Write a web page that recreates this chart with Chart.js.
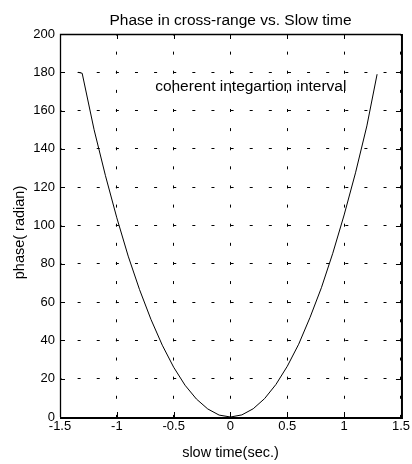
<!DOCTYPE html>
<html><head><meta charset="utf-8">
<script src="https://cdn.jsdelivr.net/npm/chart.js@4"></script>
<style>html,body{margin:0;padding:0;background:#fff;overflow:hidden;} #wrap{width:412px;height:464px;position:relative;}</style>
</head><body><div id="wrap"><canvas id="c" width="412" height="464"></canvas></div>
<script>
// ---- data ----
const slowTime = [-1.34, -1.305, -1.2, -1.1, -1.0, -0.9, -0.8, -0.7, -0.6, -0.5, -0.4, -0.3, -0.2, -0.1, 0.0,
                  0.1, 0.2, 0.3, 0.4, 0.5, 0.6, 0.7, 0.8, 0.9, 1.0, 1.1, 1.2, 1.29];
const phase    = [180, 179.5, 150, 126, 104, 84, 66.5, 51, 37.5, 26, 16.6, 9.4, 4.2, 1.0, 0,
                  1.1, 4.3, 9.6, 17, 26.5, 38, 52, 67.5, 85.5, 105.5, 127.5, 152, 179];
const xTicks = [-1.5, -1, -0.5, 0, 0.5, 1, 1.5];
const xTickLabels = ['-1.5', '-1', '-0.5', '0', '0.5', '1', '1.5'];
const yTicks = [0, 20, 40, 60, 80, 100, 120, 140, 160, 180, 200];
const yTickLabels = ['0', '20', '40', '60', '80', '100', '120', '140', '160', '180', '200'];
const titleText = 'Phase in cross-range vs. Slow time';
const xTitleText = 'slow time(sec.)';
const yTitleText = 'phase( radian)';
const noteText = 'coherent integartion interval';

const FONT = "'Liberation Sans', Arial, Helvetica, sans-serif";
const points = slowTime.map((x, i) => ({x: x, y: phase[i]}));

const framePlugin = {
  id: 'frame',
  afterDraw(chart) {
    const ctx = chart.ctx, a = chart.chartArea;
    const xs = chart.scales.x, ys = chart.scales.y;
    ctx.save();
    ctx.strokeStyle = '#000';
    ctx.lineWidth = 1;
    // inward tick marks
    const tl = 5;
    ctx.beginPath();
    xTicks.forEach(v => {
      const px = Math.round(xs.getPixelForValue(v)) + 0.5;
      ctx.moveTo(px, a.bottom); ctx.lineTo(px, a.bottom - tl);
      ctx.moveTo(px, a.top); ctx.lineTo(px, a.top + tl);
    });
    yTicks.forEach(v => {
      const py = Math.round(ys.getPixelForValue(v)) + 0.5;
      ctx.moveTo(a.left, py); ctx.lineTo(a.left + tl, py);
      ctx.moveTo(a.right, py); ctx.lineTo(a.right - tl, py);
    });
    ctx.stroke();
    // frame: thin top/left, heavier right/bottom
    ctx.lineWidth = 1.3;
    ctx.beginPath();
    ctx.moveTo(a.left + 0.5, a.bottom); ctx.lineTo(a.left + 0.5, a.top + 0.5); ctx.lineTo(a.right, a.top + 0.5);
    ctx.stroke();
    ctx.lineWidth = 2;
    ctx.beginPath();
    ctx.moveTo(a.right + 1, a.top); ctx.lineTo(a.right + 1, a.bottom + 1); ctx.lineTo(a.left, a.bottom + 1);
    ctx.stroke();
    // annotation
    ctx.fillStyle = '#000';
    ctx.font = '15.5px ' + FONT;
    ctx.textAlign = 'left';
    ctx.textBaseline = 'alphabetic';
    ctx.fillText(noteText, xs.getPixelForValue(-0.663), ys.getPixelForValue(170));
    // y axis title
    ctx.font = '14.5px ' + FONT;
    ctx.translate(19.5, (a.top + a.bottom) / 2 + 7);
    ctx.rotate(-Math.PI / 2);
    ctx.textAlign = 'center';
    ctx.textBaseline = 'middle';
    ctx.fillText(yTitleText, 0, 0);
    ctx.restore();
  }
};

new Chart(document.getElementById('c'), {
  type: 'scatter',
  data: {
    datasets: [{
      data: points,
      showLine: true,
      borderColor: '#000',
      borderWidth: 1,
      pointRadius: 0,
      tension: 0,
      fill: false
    }]
  },
  options: {
    responsive: false,
    animation: false,
    devicePixelRatio: 1,
    layout: {padding: {top: 0, left: 0, right: 8, bottom: 0}},
    plugins: {
      legend: {display: false},
      tooltip: {enabled: false},
      title: {
        display: true,
        text: titleText,
        fullSize: false,
        color: '#000',
        font: {family: FONT, size: 15.5, weight: 'normal', lineHeight: 1.2},
        padding: {top: 11, bottom: 4.4}
      }
    },
    scales: {
      x: {
        type: 'linear',
        min: -1.5, max: 1.5,
        afterFit(s) { s.height = 47; },
        afterBuildTicks(s) { s.ticks = xTicks.map(v => ({value: v})); },
        ticks: {
          color: '#000',
          padding: 2,
          maxRotation: 0,
          autoSkip: false,
          font: {family: FONT, size: 13, lineHeight: 1.1},
          callback: (v, i) => xTickLabels[i]
        },
        grid: {color: '#000', lineWidth: 1, drawTicks: false, drawOnChartArea: true},
        border: {display: false, dash: [3, 16.12], dashOffset: 1.5},
        title: {
          display: true, text: xTitleText, color: '#000',
          font: {family: FONT, size: 14.5, lineHeight: 1.2},
          padding: {top: 0, bottom: 2.2}
        }
      },
      y: {
        type: 'linear',
        min: 0, max: 200,
        afterFit(s) { s.width = 60; },
        afterBuildTicks(s) { s.ticks = yTicks.map(v => ({value: v})); },
        ticks: {
          color: '#000',
          padding: 5,
          autoSkip: false,
          font: {family: FONT, size: 13, lineHeight: 1.1},
          callback: (v, i) => yTickLabels[i]
        },
        grid: {color: '#000', lineWidth: 1, drawTicks: false, drawOnChartArea: true},
        border: {display: false, dash: [3, 16.12], dashOffset: 1.5}
      }
    }
  },
  plugins: [framePlugin]
});
</script>
</body></html>
